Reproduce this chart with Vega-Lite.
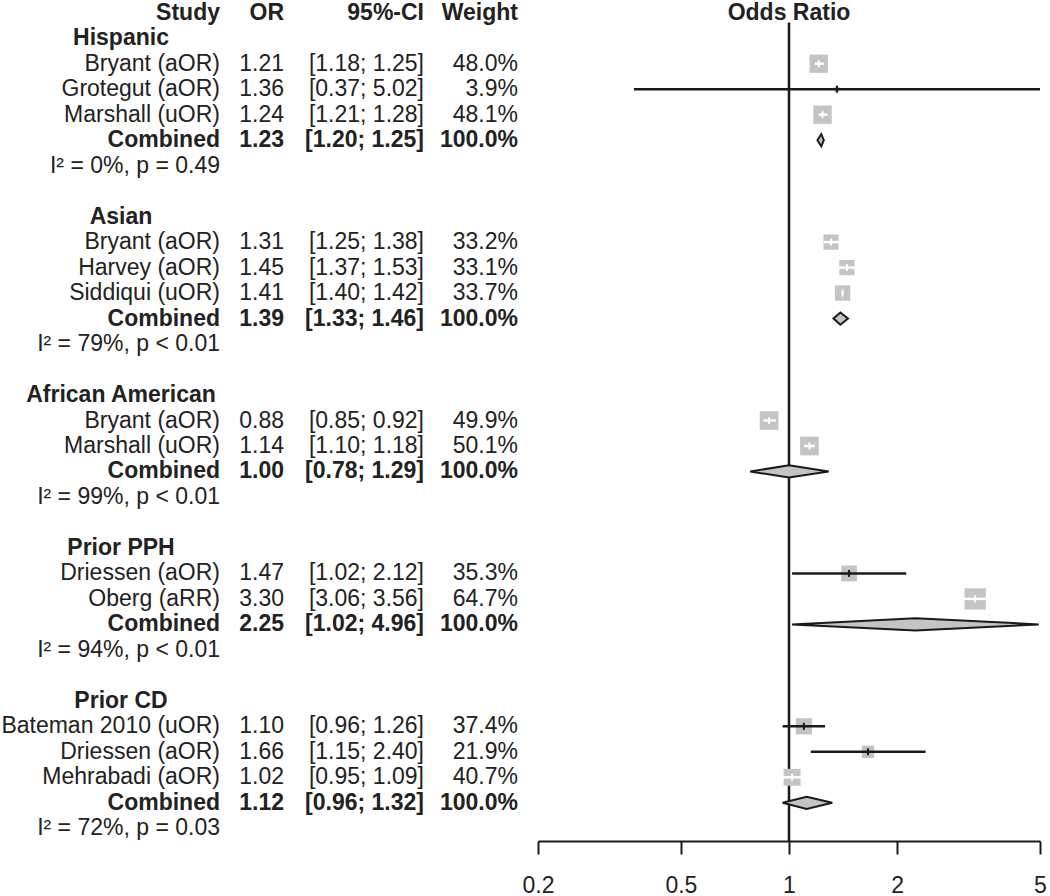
{
  "$schema": "https://vega.github.io/schema/vega-lite/v6.json",
  "padding": 0,
  "background": "white",
  "spacing": 0,
  "bounds": "flush",
  "config": {
    "view": {"stroke": null},
    "font": "Liberation Sans",
    "text": {"font": "Liberation Sans", "fontSize": 23, "color": "#222222", "baseline": "middle"},
    "axis": {
      "grid": false,
      "domainColor": "#1a1a1a",
      "domainWidth": 2,
      "tickColor": "#1a1a1a",
      "tickWidth": 2,
      "tickSize": 13,
      "labelFont": "Liberation Sans",
      "labelFontSize": 23,
      "labelColor": "#222222",
      "labelPadding": 20,
      "labelFlush": false
    }
  },
  "datasets": {
    "rows": [
      {"r": 0, "kind": "header", "name": "Study"},
      {"r": 1, "kind": "group", "name": "Hispanic"},
      {"r": 2, "kind": "study", "name": "Bryant (aOR)", "est": 1.21, "lo": 1.18, "hi": 1.25, "wt": 48.0},
      {"r": 3, "kind": "study", "name": "Grotegut (aOR)", "est": 1.36, "lo": 0.37, "hi": 5.02, "wt": 3.9},
      {"r": 4, "kind": "study", "name": "Marshall (uOR)", "est": 1.24, "lo": 1.21, "hi": 1.28, "wt": 48.1},
      {"r": 5, "kind": "combined", "name": "Combined", "est": 1.23, "lo": 1.20, "hi": 1.25, "wt": 100.0},
      {"r": 6, "kind": "het", "name": "I² = 0%, p = 0.49"},
      {"r": 8, "kind": "group", "name": "Asian"},
      {"r": 9, "kind": "study", "name": "Bryant (aOR)", "est": 1.31, "lo": 1.25, "hi": 1.38, "wt": 33.2},
      {"r": 10, "kind": "study", "name": "Harvey (aOR)", "est": 1.45, "lo": 1.37, "hi": 1.53, "wt": 33.1},
      {"r": 11, "kind": "study", "name": "Siddiqui (uOR)", "est": 1.41, "lo": 1.40, "hi": 1.42, "wt": 33.7},
      {"r": 12, "kind": "combined", "name": "Combined", "est": 1.39, "lo": 1.33, "hi": 1.46, "wt": 100.0},
      {"r": 13, "kind": "het", "name": "I² = 79%, p < 0.01"},
      {"r": 15, "kind": "group", "name": "African American"},
      {"r": 16, "kind": "study", "name": "Bryant (aOR)", "est": 0.88, "lo": 0.85, "hi": 0.92, "wt": 49.9},
      {"r": 17, "kind": "study", "name": "Marshall (uOR)", "est": 1.14, "lo": 1.10, "hi": 1.18, "wt": 50.1},
      {"r": 18, "kind": "combined", "name": "Combined", "est": 1.00, "lo": 0.78, "hi": 1.29, "wt": 100.0},
      {"r": 19, "kind": "het", "name": "I² = 99%, p < 0.01"},
      {"r": 21, "kind": "group", "name": "Prior PPH"},
      {"r": 22, "kind": "study", "name": "Driessen (aOR)", "est": 1.47, "lo": 1.02, "hi": 2.12, "wt": 35.3},
      {"r": 23, "kind": "study", "name": "Oberg (aRR)", "est": 3.30, "lo": 3.06, "hi": 3.56, "wt": 64.7},
      {"r": 24, "kind": "combined", "name": "Combined", "est": 2.25, "lo": 1.02, "hi": 4.96, "wt": 100.0},
      {"r": 25, "kind": "het", "name": "I² = 94%, p < 0.01"},
      {"r": 27, "kind": "group", "name": "Prior CD"},
      {"r": 28, "kind": "study", "name": "Bateman 2010 (uOR)", "est": 1.10, "lo": 0.96, "hi": 1.26, "wt": 37.4},
      {"r": 29, "kind": "study", "name": "Driessen (aOR)", "est": 1.66, "lo": 1.15, "hi": 2.40, "wt": 21.9},
      {"r": 30, "kind": "study", "name": "Mehrabadi (aOR)", "est": 1.02, "lo": 0.95, "hi": 1.09, "wt": 40.7},
      {"r": 31, "kind": "combined", "name": "Combined", "est": 1.12, "lo": 0.96, "hi": 1.32, "wt": 100.0},
      {"r": 32, "kind": "het", "name": "I² = 72%, p = 0.03"}
    ]
  },
  "hconcat": [
    {
      "width": 220,
      "height": 841,
      "data": {"name": "rows"},
      "layer": [
        {
          "transform": [{"filter": "datum.kind == 'header' || datum.kind == 'combined'"}],
          "mark": {"type": "text", "align": "right", "fontWeight": "bold"},
          "encoding": {
            "x": {"value": "width"},
            "y": {"field": "r", "type": "quantitative", "scale": {"domain": [-0.5, 32.5], "reverse": true, "nice": false, "zero": false}, "axis": null},
            "text": {"field": "name"}
          }
        },
        {
          "transform": [{"filter": "datum.kind == 'study' || datum.kind == 'het'"}],
          "mark": {"type": "text", "align": "right"},
          "encoding": {
            "x": {"value": "width"},
            "y": {"field": "r", "type": "quantitative", "axis": null},
            "text": {"field": "name"}
          }
        },
        {
          "transform": [{"filter": "datum.kind == 'group'"}],
          "mark": {"type": "text", "align": "center", "fontWeight": "bold", "dx": 11},
          "encoding": {
            "y": {"field": "r", "type": "quantitative", "axis": null},
            "text": {"field": "name"}
          }
        }
      ]
    },
    {
      "width": 64,
      "height": 841,
      "data": {"name": "rows"},
      "layer": [
        {
          "transform": [{"filter": "datum.kind == 'header'"}],
          "mark": {"type": "text", "align": "right", "fontWeight": "bold"},
          "encoding": {
            "x": {"value": "width"},
            "y": {"field": "r", "type": "quantitative", "scale": {"domain": [-0.5, 32.5], "reverse": true, "nice": false, "zero": false}, "axis": null},
            "text": {"value": "OR"}
          }
        },
        {
          "transform": [{"filter": "datum.kind == 'study'"}],
          "mark": {"type": "text", "align": "right"},
          "encoding": {
            "x": {"value": "width"},
            "y": {"field": "r", "type": "quantitative", "axis": null},
            "text": {"field": "est", "type": "quantitative", "format": ".2f"}
          }
        },
        {
          "transform": [{"filter": "datum.kind == 'combined'"}],
          "mark": {"type": "text", "align": "right", "fontWeight": "bold"},
          "encoding": {
            "x": {"value": "width"},
            "y": {"field": "r", "type": "quantitative", "axis": null},
            "text": {"field": "est", "type": "quantitative", "format": ".2f"}
          }
        }
      ]
    },
    {
      "width": 140,
      "height": 841,
      "data": {"name": "rows"},
      "transform": [{"calculate": "'[' + format(datum.lo, '.2f') + '; ' + format(datum.hi, '.2f') + ']'", "as": "ci"}],
      "layer": [
        {
          "transform": [{"filter": "datum.kind == 'header'"}],
          "mark": {"type": "text", "align": "right", "fontWeight": "bold"},
          "encoding": {
            "x": {"value": "width"},
            "y": {"field": "r", "type": "quantitative", "scale": {"domain": [-0.5, 32.5], "reverse": true, "nice": false, "zero": false}, "axis": null},
            "text": {"value": "95%-CI"}
          }
        },
        {
          "transform": [{"filter": "datum.kind == 'study'"}],
          "mark": {"type": "text", "align": "right"},
          "encoding": {
            "x": {"value": "width"},
            "y": {"field": "r", "type": "quantitative", "axis": null},
            "text": {"field": "ci"}
          }
        },
        {
          "transform": [{"filter": "datum.kind == 'combined'"}],
          "mark": {"type": "text", "align": "right", "fontWeight": "bold"},
          "encoding": {
            "x": {"value": "width"},
            "y": {"field": "r", "type": "quantitative", "axis": null},
            "text": {"field": "ci"}
          }
        }
      ]
    },
    {
      "width": 114,
      "height": 841,
      "data": {"name": "rows"},
      "transform": [{"calculate": "format(datum.wt, '.1f') + '%'", "as": "wtxt"}],
      "layer": [
        {
          "transform": [{"filter": "datum.kind == 'header'"}],
          "mark": {"type": "text", "align": "right", "fontWeight": "bold", "dx": -20},
          "encoding": {
            "x": {"value": "width"},
            "y": {"field": "r", "type": "quantitative", "scale": {"domain": [-0.5, 32.5], "reverse": true, "nice": false, "zero": false}, "axis": null},
            "text": {"value": "Weight"}
          }
        },
        {
          "transform": [{"filter": "datum.kind == 'study'"}],
          "mark": {"type": "text", "align": "right", "dx": -20},
          "encoding": {
            "x": {"value": "width"},
            "y": {"field": "r", "type": "quantitative", "axis": null},
            "text": {"field": "wtxt"}
          }
        },
        {
          "transform": [{"filter": "datum.kind == 'combined'"}],
          "mark": {"type": "text", "align": "right", "fontWeight": "bold", "dx": -20},
          "encoding": {
            "x": {"value": "width"},
            "y": {"field": "r", "type": "quantitative", "axis": null},
            "text": {"field": "wtxt"}
          }
        }
      ]
    },
    {
      "width": 502,
      "height": 841,
      "data": {"name": "rows"},
      "layer": [
        {
          "transform": [{"filter": "datum.kind == 'header'"}],
          "mark": {"type": "rule", "color": "#1a1a1a", "strokeWidth": 2.5},
          "encoding": {
            "x": {"datum": 1, "type": "quantitative", "scale": {"type": "log", "domain": [0.2, 5], "nice": false}, "axis": {"values": [0.2, 0.5, 1, 2, 5], "format": "~g", "title": null}},
            "y": {"datum": 0.38, "type": "quantitative", "scale": {"domain": [-0.5, 32.5], "reverse": true, "nice": false, "zero": false}, "axis": null},
            "y2": {"datum": 32.5}
          }
        },
        {
          "transform": [{"filter": "datum.kind == 'header'"}],
          "mark": {"type": "text", "align": "center", "fontWeight": "bold"},
          "encoding": {
            "x": {"datum": 1, "type": "quantitative", "title": null},
            "y": {"field": "r", "type": "quantitative", "axis": null},
            "text": {"value": "Odds Ratio"}
          }
        },
        {
          "transform": [{"filter": "datum.kind == 'combined'"}, {"fold": ["lo", "est", "hi"], "as": ["k", "xv"]}, {"calculate": "datum.k == 'est' ? datum.r - 0.24 : datum.r", "as": "top"}, {"calculate": "datum.k == 'est' ? datum.r + 0.24 : datum.r", "as": "bot"}],
          "mark": {"type": "area", "orient": "vertical", "color": "#c4c4c4", "opacity": 1, "stroke": "#1a1a1a", "strokeWidth": 2, "strokeJoin": "miter"},
          "encoding": {
            "x": {"field": "xv", "type": "quantitative", "title": null},
            "y": {"field": "top", "type": "quantitative", "axis": null},
            "y2": {"field": "bot"},
            "detail": {"field": "r", "type": "nominal"}
          }
        },
        {
          "transform": [{"filter": "datum.kind == 'study'"}],
          "mark": {"type": "square", "color": "#c4c4c4", "opacity": 1},
          "encoding": {
            "x": {"field": "est", "type": "quantitative", "title": null},
            "y": {"field": "r", "type": "quantitative", "axis": null},
            "size": {"field": "wt", "type": "quantitative", "scale": {"domain": [0, 100], "range": [0, 700]}, "legend": null}
          }
        },
        {
          "transform": [{"filter": "datum.kind == 'study'"}],
          "mark": {"type": "rule", "strokeWidth": 2.5, "clip": true},
          "encoding": {
            "x": {"field": "lo", "type": "quantitative", "title": null},
            "x2": {"field": "hi"},
            "y": {"field": "r", "type": "quantitative", "axis": null},
            "color": {"condition": {"test": "datum.hi / datum.lo < 1.2", "value": "white"}, "value": "#1a1a1a"}
          }
        },
        {
          "transform": [{"filter": "datum.kind == 'study'"}],
          "mark": {"type": "tick", "orient": "vertical", "size": 7, "thickness": 2, "opacity": 1},
          "encoding": {
            "x": {"field": "est", "type": "quantitative", "title": null},
            "y": {"field": "r", "type": "quantitative", "axis": null},
            "color": {"condition": {"test": "datum.hi / datum.lo < 1.2", "value": "white"}, "value": "#1a1a1a"}
          }
        }
      ]
    }
  ]
}
